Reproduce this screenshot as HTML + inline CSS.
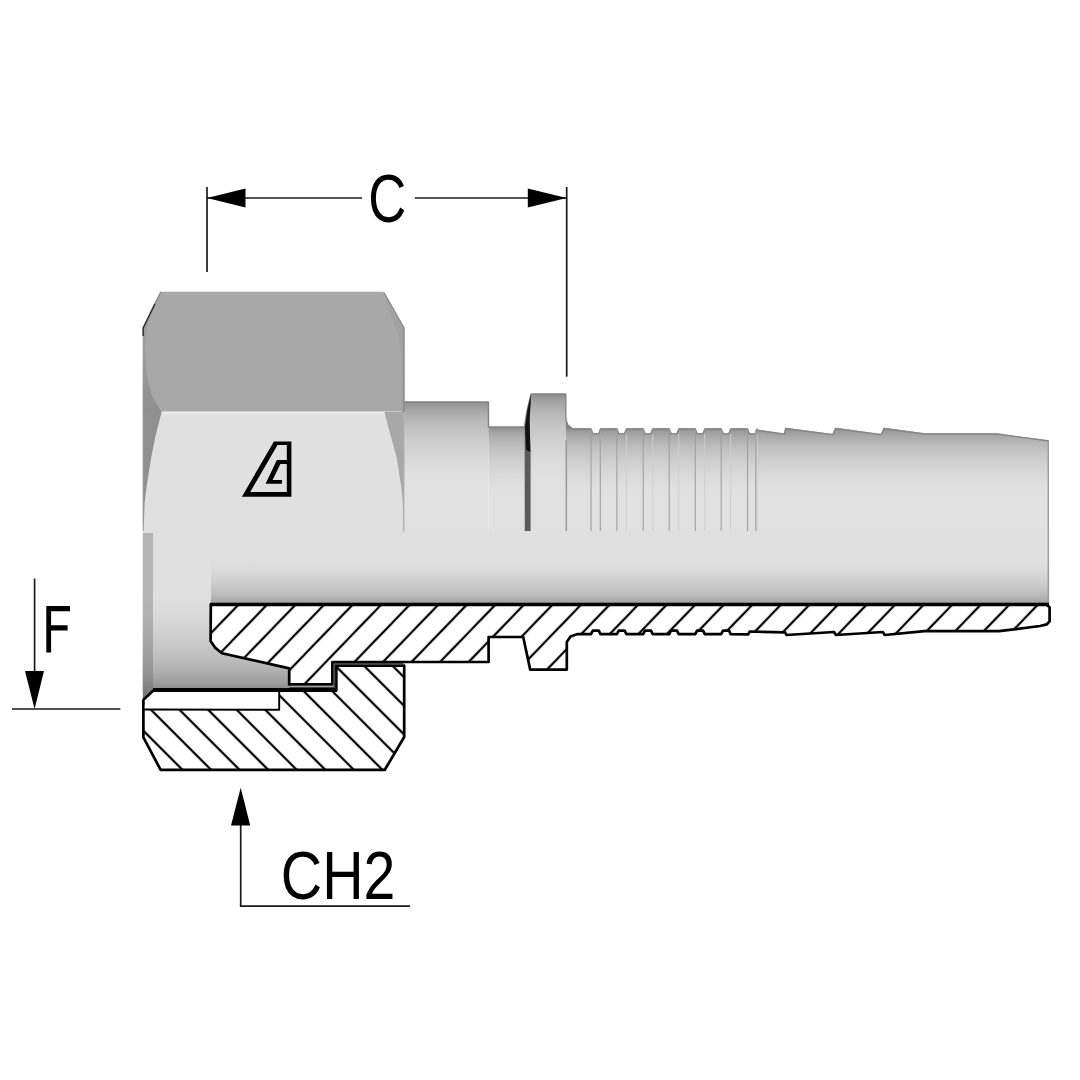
<!DOCTYPE html>
<html><head><meta charset="utf-8"><title>Fitting</title>
<style>
html,body{margin:0;padding:0;background:#fff;}
body{width:1080px;height:1080px;overflow:hidden;font-family:"Liberation Sans",sans-serif;}
svg{display:block;}
text{font-family:"Liberation Sans",sans-serif;fill:#000;}
</style></head><body>
<svg width="1080" height="1080" viewBox="0 0 1080 1080">
<defs>
<linearGradient id="cyl" x1="0" y1="0" x2="0" y2="1"><stop offset="0.0000" stop-color="rgb(128,128,128)"/><stop offset="0.0051" stop-color="rgb(139,139,139)"/><stop offset="0.0204" stop-color="rgb(149,149,149)"/><stop offset="0.0459" stop-color="rgb(160,160,160)"/><stop offset="0.0816" stop-color="rgb(170,170,170)"/><stop offset="0.1276" stop-color="rgb(180,180,180)"/><stop offset="0.1837" stop-color="rgb(190,190,190)"/><stop offset="0.2500" stop-color="rgb(199,199,199)"/><stop offset="0.3265" stop-color="rgb(207,207,207)"/><stop offset="0.4133" stop-color="rgb(214,214,214)"/><stop offset="0.5102" stop-color="rgb(221,221,221)"/><stop offset="0.6173" stop-color="rgb(225,225,225)"/><stop offset="0.7347" stop-color="rgb(225,225,225)"/><stop offset="0.8622" stop-color="rgb(225,225,225)"/><stop offset="1.0000" stop-color="rgb(225,225,225)"/></linearGradient>
<linearGradient id="bore" x1="0" y1="0" x2="0" y2="1"><stop offset="0.0000" stop-color="rgb(224,224,224)"/><stop offset="0.1378" stop-color="rgb(224,224,224)"/><stop offset="0.2653" stop-color="rgb(224,224,224)"/><stop offset="0.3827" stop-color="rgb(224,224,224)"/><stop offset="0.4898" stop-color="rgb(221,221,221)"/><stop offset="0.5867" stop-color="rgb(215,215,215)"/><stop offset="0.6735" stop-color="rgb(208,208,208)"/><stop offset="0.7500" stop-color="rgb(201,201,201)"/><stop offset="0.8163" stop-color="rgb(193,193,193)"/><stop offset="0.8724" stop-color="rgb(185,185,185)"/><stop offset="0.9184" stop-color="rgb(177,177,177)"/><stop offset="0.9541" stop-color="rgb(168,168,168)"/><stop offset="0.9796" stop-color="rgb(159,159,159)"/><stop offset="0.9949" stop-color="rgb(149,149,149)"/><stop offset="1.0000" stop-color="rgb(140,140,140)"/></linearGradient>
<linearGradient id="nutin" x1="0" y1="0" x2="0" y2="1"><stop offset="0.0000" stop-color="rgb(224,224,224)"/><stop offset="0.1378" stop-color="rgb(224,224,224)"/><stop offset="0.2653" stop-color="rgb(224,224,224)"/><stop offset="0.3827" stop-color="rgb(224,224,224)"/><stop offset="0.4898" stop-color="rgb(220,220,220)"/><stop offset="0.5867" stop-color="rgb(213,213,213)"/><stop offset="0.6735" stop-color="rgb(205,205,205)"/><stop offset="0.7500" stop-color="rgb(196,196,196)"/><stop offset="0.8163" stop-color="rgb(186,186,186)"/><stop offset="0.8724" stop-color="rgb(176,176,176)"/><stop offset="0.9184" stop-color="rgb(165,165,165)"/><stop offset="0.9541" stop-color="rgb(154,154,154)"/><stop offset="0.9796" stop-color="rgb(143,143,143)"/><stop offset="0.9949" stop-color="rgb(132,132,132)"/><stop offset="1.0000" stop-color="rgb(120,120,120)"/></linearGradient>
<linearGradient id="strip" x1="0" y1="0" x2="0" y2="1"><stop offset="0.0000" stop-color="rgb(180,180,180)"/><stop offset="0.1378" stop-color="rgb(180,180,180)"/><stop offset="0.2653" stop-color="rgb(180,180,180)"/><stop offset="0.3827" stop-color="rgb(180,180,180)"/><stop offset="0.4898" stop-color="rgb(177,177,177)"/><stop offset="0.5867" stop-color="rgb(171,171,171)"/><stop offset="0.6735" stop-color="rgb(164,164,164)"/><stop offset="0.7500" stop-color="rgb(157,157,157)"/><stop offset="0.8163" stop-color="rgb(149,149,149)"/><stop offset="0.8724" stop-color="rgb(141,141,141)"/><stop offset="0.9184" stop-color="rgb(132,132,132)"/><stop offset="0.9541" stop-color="rgb(123,123,123)"/><stop offset="0.9796" stop-color="rgb(114,114,114)"/><stop offset="0.9949" stop-color="rgb(104,104,104)"/><stop offset="1.0000" stop-color="rgb(95,95,95)"/></linearGradient>
<linearGradient id="tail" gradientUnits="userSpaceOnUse" x1="0" y1="428" x2="0" y2="531.5"><stop offset="0.0000" stop-color="rgb(128,128,128)"/><stop offset="0.0051" stop-color="rgb(139,139,139)"/><stop offset="0.0204" stop-color="rgb(149,149,149)"/><stop offset="0.0459" stop-color="rgb(160,160,160)"/><stop offset="0.0816" stop-color="rgb(170,170,170)"/><stop offset="0.1276" stop-color="rgb(180,180,180)"/><stop offset="0.1837" stop-color="rgb(190,190,190)"/><stop offset="0.2500" stop-color="rgb(199,199,199)"/><stop offset="0.3265" stop-color="rgb(207,207,207)"/><stop offset="0.4133" stop-color="rgb(214,214,214)"/><stop offset="0.5102" stop-color="rgb(221,221,221)"/><stop offset="0.6173" stop-color="rgb(225,225,225)"/><stop offset="0.7347" stop-color="rgb(225,225,225)"/><stop offset="0.8622" stop-color="rgb(225,225,225)"/><stop offset="1.0000" stop-color="rgb(225,225,225)"/></linearGradient>
<pattern id="h1" patternUnits="userSpaceOnUse" width="20.537" height="20.537" patternTransform="translate(236.8 606.4) rotate(-46.0)"><rect x="0" y="-1.12" width="20.537" height="2.24" fill="#000"/><rect x="0" y="19.417" width="20.537" height="2.24" fill="#000"/></pattern>
<pattern id="h2" patternUnits="userSpaceOnUse" width="20.19" height="20.19" patternTransform="translate(180.4 710.6) rotate(45)"><rect x="0" y="-1.12" width="20.19" height="2.24" fill="#000"/><rect x="0" y="19.07" width="20.19" height="2.24" fill="#000"/></pattern>
<clipPath id="bodyclip"><polygon points="404.0,401.5 488.5,401.5 488.5,426.5 524.5,426.5 527.0,410.0 531.0,393.5 565.8,393.5 565.8,418.0 567.5,424.0 572.5,428.3 591.0,428.3 593.0,433.2 598.5,433.2 600.5,428.3 616.9,428.3 618.9,433.2 624.4,433.2 626.4,428.3 643.2,428.3 645.2,433.2 650.7,433.2 652.7,428.3 669.2,428.3 671.2,433.2 676.7,433.2 678.7,428.3 695.3,428.3 697.3,433.2 702.8,433.2 704.8,428.3 721.2,428.3 723.2,433.2 728.7,433.2 730.7,428.3 747.6,428.3 749.6,433.2 755.1,433.2 757.1,428.3 757.1,429.5 784.4,433.6 785.5,427.8 832.8,433.9 835.5,427.8 881.0,433.9 884.0,427.8 924.4,433.3 996.7,433.3 1049.0,440.3 1049.0,531.5 404.0,531.5"/></clipPath>
</defs>
<rect width="1080" height="1080" fill="#fff"/>
<g id="exterior">
<rect x="404" y="401.5" width="84.5" height="130.0" fill="url(#cyl)"/>
<rect x="488.5" y="426.5" width="37" height="105.0" fill="url(#cyl)"/>
<polygon points="524.5,426.5 527.0,410.0 531.0,393.5 565.8,393.5 565.8,531.5 524.5,531.5" fill="url(#cyl)"/>
<polygon points="565.8,393.5 565.8,418.0 567.5,424.0 572.5,428.3 591.0,428.3 593.0,433.2 598.5,433.2 600.5,428.3 616.9,428.3 618.9,433.2 624.4,433.2 626.4,428.3 643.2,428.3 645.2,433.2 650.7,433.2 652.7,428.3 669.2,428.3 671.2,433.2 676.7,433.2 678.7,428.3 695.3,428.3 697.3,433.2 702.8,433.2 704.8,428.3 721.2,428.3 723.2,433.2 728.7,433.2 730.7,428.3 747.6,428.3 749.6,433.2 755.1,433.2 757.1,428.3 757.1,429.5 784.4,433.6 785.5,427.8 832.8,433.9 835.5,427.8 881.0,433.9 884.0,427.8 924.4,433.3 996.7,433.3 1049.0,440.3 1049.0,531.5 565.8,531.5" fill="url(#tail)"/>
<polyline points="404.0,402.2 488.5,402.2 488.5,427.2 524.5,427.2 527.0,410.7 531.0,394.2 565.8,394.2 565.8,418.7 567.5,424.7 572.5,429.0 591.0,429.0 593.0,433.9 598.5,433.9 600.5,429.0 616.9,429.0 618.9,433.9 624.4,433.9 626.4,429.0 643.2,429.0 645.2,433.9 650.7,433.9 652.7,429.0 669.2,429.0 671.2,433.9 676.7,433.9 678.7,429.0 695.3,429.0 697.3,433.9 702.8,433.9 704.8,429.0 721.2,429.0 723.2,433.9 728.7,433.9 730.7,429.0 747.6,429.0 749.6,433.9 755.1,433.9 757.1,429.0 757.1,430.2 784.4,434.3 785.5,428.5 832.8,434.6 835.5,428.5 881.0,434.6 884.0,428.5 924.4,434.0 996.7,434.0 1049.0,441.0" fill="none" stroke="#868686" stroke-width="1.4" stroke-linejoin="round"/>
<path d="M531 394 L527.3 410 L524.6 427 L524.8 531.5 L530.6 531.5 L530.6 455 L529.6 420 Z" fill="#5a5a5a"/>
<path d="M531 394.5 L527.5 410 L525 428 L526.2 450 L530.4 452 L529.6 420 Z" fill="#111"/>
<line x1="566.3" y1="440" x2="566.3" y2="531.5" stroke="#9a9a9a" stroke-width="1.6"/>
<line x1="591.0" y1="430" x2="591.0" y2="531.5" stroke="#a0a0a0" stroke-width="1.1"/>
<line x1="600.5" y1="434" x2="600.5" y2="531.5" stroke="#cecece" stroke-width="0.9"/>
<line x1="616.9" y1="430" x2="616.9" y2="531.5" stroke="#a0a0a0" stroke-width="1.1"/>
<line x1="626.4" y1="434" x2="626.4" y2="531.5" stroke="#cecece" stroke-width="0.9"/>
<line x1="643.2" y1="430" x2="643.2" y2="531.5" stroke="#a0a0a0" stroke-width="1.1"/>
<line x1="652.7" y1="434" x2="652.7" y2="531.5" stroke="#cecece" stroke-width="0.9"/>
<line x1="669.2" y1="430" x2="669.2" y2="531.5" stroke="#a0a0a0" stroke-width="1.1"/>
<line x1="678.7" y1="434" x2="678.7" y2="531.5" stroke="#cecece" stroke-width="0.9"/>
<line x1="695.3" y1="430" x2="695.3" y2="531.5" stroke="#a0a0a0" stroke-width="1.1"/>
<line x1="704.8" y1="434" x2="704.8" y2="531.5" stroke="#cecece" stroke-width="0.9"/>
<line x1="721.2" y1="430" x2="721.2" y2="531.5" stroke="#a0a0a0" stroke-width="1.1"/>
<line x1="730.7" y1="434" x2="730.7" y2="531.5" stroke="#cecece" stroke-width="0.9"/>
<line x1="747.6" y1="430" x2="747.6" y2="531.5" stroke="#a0a0a0" stroke-width="1.1"/>
<line x1="757.1" y1="434" x2="757.1" y2="531.5" stroke="#cecece" stroke-width="0.9"/>
<line x1="600.3" y1="430" x2="600.3" y2="531.5" stroke="#a0a0a0" stroke-width="1.1"/>
<line x1="755.8" y1="430" x2="755.8" y2="531.5" stroke="#a0a0a0" stroke-width="1.1"/>
</g>
<rect x="210" y="531.0" width="839.2" height="73.5" fill="url(#bore)"/>
<line x1="1048.3" y1="441" x2="1048.3" y2="603" stroke="#9a9a9a" stroke-width="1.4"/>
<g id="nut">
<polygon points="160.6,291.7 383.3,291.7 404.2,327.8 404.2,412.0 142.8,412.0 142.8,327.8" fill="#a8a8a8"/>
<rect x="142.8" y="411.7" width="261.4" height="120.8" fill="#e0e0e0"/>
<linearGradient id="hl" x1="0" y1="0" x2="0" y2="1"><stop offset="0" stop-color="#e8e8e8"/><stop offset="1" stop-color="#e0e0e0"/></linearGradient>
<rect x="142.8" y="411.5" width="261.4" height="5" fill="url(#hl)"/>
<linearGradient id="lch" gradientUnits="userSpaceOnUse" x1="0" y1="292" x2="0" y2="412"><stop offset="0" stop-color="#a2a2a2"/><stop offset="0.55" stop-color="#9c9c9c"/><stop offset="1" stop-color="#8e8e8e"/></linearGradient>
<path d="M160.6 291.7 L147.8 324.4 L144.6 346.7 L146.7 374.4 L152.2 396.7 L161.7 412 L142.8 412 L142.8 327.8 Z" fill="url(#lch)"/>
<path d="M142.8 411.7 L161.7 411.7 L155.6 435.6 L151.1 457.8 L146.7 485.6 L144.6 503 L143.6 531.5 L142.8 531.5 Z" fill="#909090"/>
<path d="M404.2 411.7 L384.4 411.7 L390 433.3 L396.7 457.8 L401.1 485.6 L402.8 503 L403.6 531.5 L404.2 531.5 Z" fill="#a8a8a8"/>
<path d="M383.3 291.7 L404.2 327.8 L404.2 412 L401.5 412 L401.8 360 L399 336 L390 313 Z" fill="#a2a2a2"/>
<path d="M155 303.6 L143.2 327.8 L143.2 336" stroke="#333" stroke-width="1.5" fill="none"/><path d="M160.8 292 L155 303.6" stroke="#888" stroke-width="1.2" fill="none"/>
<path d="M384 292.5 L404 327.8 L404 412" stroke="#888" stroke-width="1.2" fill="none"/>
<path d="M403.8 412 L403.8 531.5" stroke="#b0b0b0" stroke-width="1" fill="none"/>
</g>
<path d="M142.8 531.5 H211 V604 H290 V691 H142.8 Z" fill="url(#nutin)"/>
<rect x="142.8" y="533.0" width="10.2" height="166.5" fill="url(#strip)"/>
<g id="sections" stroke-linejoin="round">
<polygon points="210.8,604.3 1046.0,604.3 1049.6,607.3 1049.6,621.4 1046.8,624.4 1040.0,626.0 999.0,631.2 924.4,631.2 884.8,635.0 882.8,632.0 836.0,635.0 834.0,632.0 786.6,635.0 785.0,632.4 749.8,631.5 748.2,634.4 730.7,634.2 729.0,630.6 723.0,630.6 721.2,634.2 704.8,634.2 703.1,630.6 697.1,630.6 695.3,634.2 678.7,634.2 677.0,630.6 671.0,630.6 669.2,634.2 652.7,634.2 651.0,630.6 645.0,630.6 643.2,634.2 626.4,634.2 624.7,630.6 618.7,630.6 616.9,634.2 600.5,634.2 598.8,630.6 592.8,630.6 591.0,634.2 577.0,634.2 570.5,636.5 566.8,642.0 566.8,669.6 530.2,669.6 523.2,637.0 488.6,637.0 488.6,662.0 332.4,662.0 332.4,684.4 289.2,684.4 289.2,668.4 222.0,653.2 215.0,647.6 210.6,641.0" fill="#fff"/>
<polygon points="210.8,604.3 1046.0,604.3 1049.6,607.3 1049.6,621.4 1046.8,624.4 1040.0,626.0 999.0,631.2 924.4,631.2 884.8,635.0 882.8,632.0 836.0,635.0 834.0,632.0 786.6,635.0 785.0,632.4 749.8,631.5 748.2,634.4 730.7,634.2 729.0,630.6 723.0,630.6 721.2,634.2 704.8,634.2 703.1,630.6 697.1,630.6 695.3,634.2 678.7,634.2 677.0,630.6 671.0,630.6 669.2,634.2 652.7,634.2 651.0,630.6 645.0,630.6 643.2,634.2 626.4,634.2 624.7,630.6 618.7,630.6 616.9,634.2 600.5,634.2 598.8,630.6 592.8,630.6 591.0,634.2 577.0,634.2 570.5,636.5 566.8,642.0 566.8,669.6 530.2,669.6 523.2,637.0 488.6,637.0 488.6,662.0 332.4,662.0 332.4,684.4 289.2,684.4 289.2,668.4 222.0,653.2 215.0,647.6 210.6,641.0" fill="url(#h1)" stroke="#000" stroke-width="2.7"/>
<polygon points="143.4,700.0 153.4,690.6 336.3,690.6 336.3,665.7 404.2,665.7 404.2,737.0 384.8,769.8 160.6,769.8 143.4,737.4" fill="#fff"/>
<polygon points="143.4,700.0 153.4,690.6 336.3,690.6 336.3,665.7 404.2,665.7 404.2,737.0 384.8,769.8 160.6,769.8 143.4,737.4" fill="url(#h2)" stroke="#000" stroke-width="2.7"/>
<polygon points="144.8,700.6 154,692 279,692 279,709.6 144.8,709.6" fill="#fff"/>
<path d="M143.5 709.5 L279.2 709.8 L279.2 691" fill="none" stroke="#000" stroke-width="1.9"/>
<line x1="210" y1="604.5" x2="1049" y2="604.5" stroke="#000" stroke-width="3.5"/>
<path d="M289.5 687.3 H334.4 V663.9 H403.4" fill="none" stroke="#444" stroke-width="1.8"/>
<line x1="153" y1="689.8" x2="337" y2="689.8" stroke="#000" stroke-width="3.6"/>
</g>
<g id="dims" stroke="#1a1a1a" stroke-width="1.7" fill="none">
<line x1="207" y1="187" x2="207" y2="272"/>
<line x1="566.7" y1="187" x2="566.7" y2="376.7"/>
<line x1="207" y1="198" x2="362" y2="198"/>
<line x1="414.8" y1="198" x2="566.7" y2="198"/>
<line x1="34.6" y1="578.5" x2="34.6" y2="700"/>
<line x1="12" y1="709" x2="120.4" y2="709"/>
<path d="M240.7 800 L240.7 906.2 L410 906.2"/>
</g>
<g id="arrows" fill="#000">
<polygon points="207,198 245.5,188.4 245.5,207.6"/>
<polygon points="566.7,198 527.8,188.4 527.8,207.6"/>
<polygon points="34.6,709 25,671 44,671"/>
<polygon points="240.7,787.8 231,825.6 250.2,825.6"/>
</g>
<g id="labels" font-size="68">
<text x="368.2" y="221.8" font-size="69" textLength="38" lengthAdjust="spacingAndGlyphs">C</text>
<path d="M46.3 606 H70 V611.3 H51.1 V625.2 H67.6 V630.5 H51.1 V652.6 H46.3 Z" fill="#000"/>
<text x="280.8" y="899" textLength="114.5" lengthAdjust="spacingAndGlyphs">CH2</text>
</g>
<g id="logo">
<path fill="#000" fill-rule="evenodd" d="M273.9 441.6 L291.4 441.6 L291.4 496.7 L241.9 496.7 Z M277.5 444.9 L286.8 444.9 L286.8 492 L250.2 492 Z"/>
<path fill="#000" d="M287 460 L276.9 460 L265.6 483.7 L281.9 483.7 L281.9 479.9 L272.6 479.9 L280.4 463.9 L287 463.9 Z"/>
</g>
</svg>
</body></html>
